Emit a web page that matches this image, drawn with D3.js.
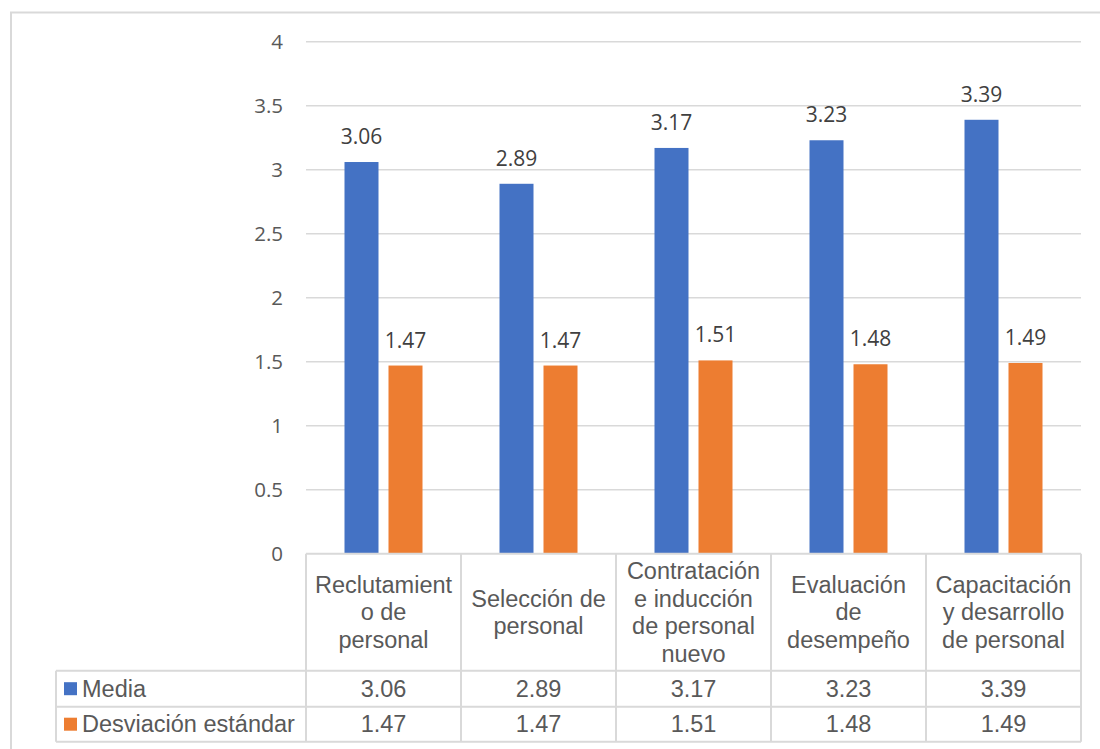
<!DOCTYPE html>
<html><head><meta charset="utf-8">
<script src="https://cdn.jsdelivr.net/npm/d3@7"></script>
<style>body{margin:0;background:#fff}svg{display:block}</style>
</head><body><svg id="c" width="1100" height="749"></svg>
<script>
const categories = [
  ["Reclutamient","o de","personal"],
  ["Selección de","personal"],
  ["Contratación","e inducción","de personal","nuevo"],
  ["Evaluación","de","desempeño"],
  ["Capacitación","y desarrollo","de personal"]
];
const seriesNames = ["Media","Desviación estándar"];
const media = [3.06, 2.89, 3.17, 3.23, 3.39];
const desviacion = [1.47, 1.47, 1.51, 1.48, 1.49];
const yTicks = [0, 0.5, 1, 1.5, 2, 2.5, 3, 3.5, 4];
const colors = ["#4472C4", "#ED7D31"];

(function(){
const series = [media, desviacion];
const svg = d3.select("#c");
const pLeft = 306, pRight = 1081, pTop = 41.7, pBottom = 553.7;
const grid = "#d9d9d9";

// chart frame
svg.append("rect").attr("x",11).attr("y",12.5).attr("width",1200).attr("height",900)
  .attr("fill","none").attr("stroke",grid).attr("stroke-width",2);

const x0 = d3.scaleBand().domain(d3.range(categories.length)).range([pLeft, pRight]);
const x1 = d3.scaleBand().domain(d3.range(series.length)).range([0, x0.bandwidth()])
  .paddingInner(0.2273).paddingOuter(0.875);
const y = d3.scaleLinear().domain([0,4]).range([pBottom, pTop]);

// gridlines
svg.append("g").selectAll("line").data(yTicks.filter(d=>d>0)).join("line")
  .attr("x1",pLeft).attr("x2",pRight).attr("y1",d=>y(d)).attr("y2",d=>y(d))
  .attr("stroke",grid).attr("stroke-width",1.5);

// y axis labels
const yAxis = d3.axisLeft(y).tickValues(yTicks).tickFormat(d=>String(d)).tickSize(0).tickPadding(0);
const ga = svg.append("g").attr("transform",`translate(283,0)`).call(yAxis);
ga.select(".domain").remove();
ga.selectAll("text").attr("font-family","'Open Sans', sans-serif").attr("font-size",20.5)
  .attr("fill","#595959").attr("dy","0.35em");

// bars
series.forEach((vals, si) => {
  const g = svg.append("g");
  g.selectAll("rect").data(vals).join("rect")
    .attr("x",(d,i)=>x0(i)+x1(si)).attr("width",x1.bandwidth())
    .attr("y",d=>y(d)).attr("height",d=>y(0)-y(d)).attr("fill",colors[si]);
  g.selectAll("text").data(vals).join("text")
    .attr("x",(d,i)=>x0(i)+x1(si)+x1.bandwidth()/2).attr("y",d=>y(d)-18)
    .attr("text-anchor","middle").attr("font-family","'Open Sans', sans-serif")
    .attr("font-size",21).attr("fill","#404040").text(d=>d.toFixed(2));
});

// data table
const tLeft = 56, hTop = 553.7, hBot = 670.7, r1 = 706.7, r2 = 741.7;
const tg = svg.append("g").attr("stroke",grid).attr("stroke-width",2).attr("fill","none");
tg.append("line").attr("x1",pLeft).attr("x2",pRight).attr("y1",hTop).attr("y2",hTop);
[hBot, r1, r2].forEach(yy => tg.append("line").attr("x1",tLeft).attr("x2",pRight).attr("y1",yy).attr("y2",yy));
tg.append("line").attr("x1",tLeft).attr("x2",tLeft).attr("y1",hBot).attr("y2",r2);
d3.range(categories.length+1).forEach(i=>{
  const xx = i < categories.length ? x0(i) : pRight;
  tg.append("line").attr("x1",xx).attr("x2",xx).attr("y1",hTop).attr("y2",r2);
});

const tf = "'Liberation Sans', Arial, sans-serif", tfs = 23.5, tc = "#595959";
categories.forEach((lines, i) => {
  const cx = x0(i) + x0.bandwidth()/2;
  const cy = (hTop + hBot)/2, lh = 27.5;
  const t = svg.append("text").attr("text-anchor","middle").attr("font-family",tf)
    .attr("font-size",tfs).attr("fill",tc);
  lines.forEach((ln, k) => {
    t.append("tspan").attr("x",cx).attr("y", cy + (k - (lines.length-1)/2)*lh).attr("dy","0.35em").text(ln);
  });
});
const rowC = [(hBot+r1)/2, (r1+r2)/2];
series.forEach((vals, si) => {
  svg.append("rect").attr("x",64).attr("y",rowC[si]-6.5).attr("width",13).attr("height",13).attr("fill",colors[si]);
  svg.append("text").attr("x",82).attr("y",rowC[si]).attr("dy","0.35em").attr("font-family",tf)
    .attr("font-size",tfs).attr("fill",tc).text(seriesNames[si]);
  svg.append("g").selectAll("text").data(vals).join("text")
    .attr("x",(d,i)=>x0(i)+x0.bandwidth()/2).attr("y",rowC[si]).attr("dy","0.35em")
    .attr("text-anchor","middle").attr("font-family",tf).attr("font-size",tfs).attr("fill",tc)
    .text(d=>d.toFixed(2));
});
})();
</script></body></html>
